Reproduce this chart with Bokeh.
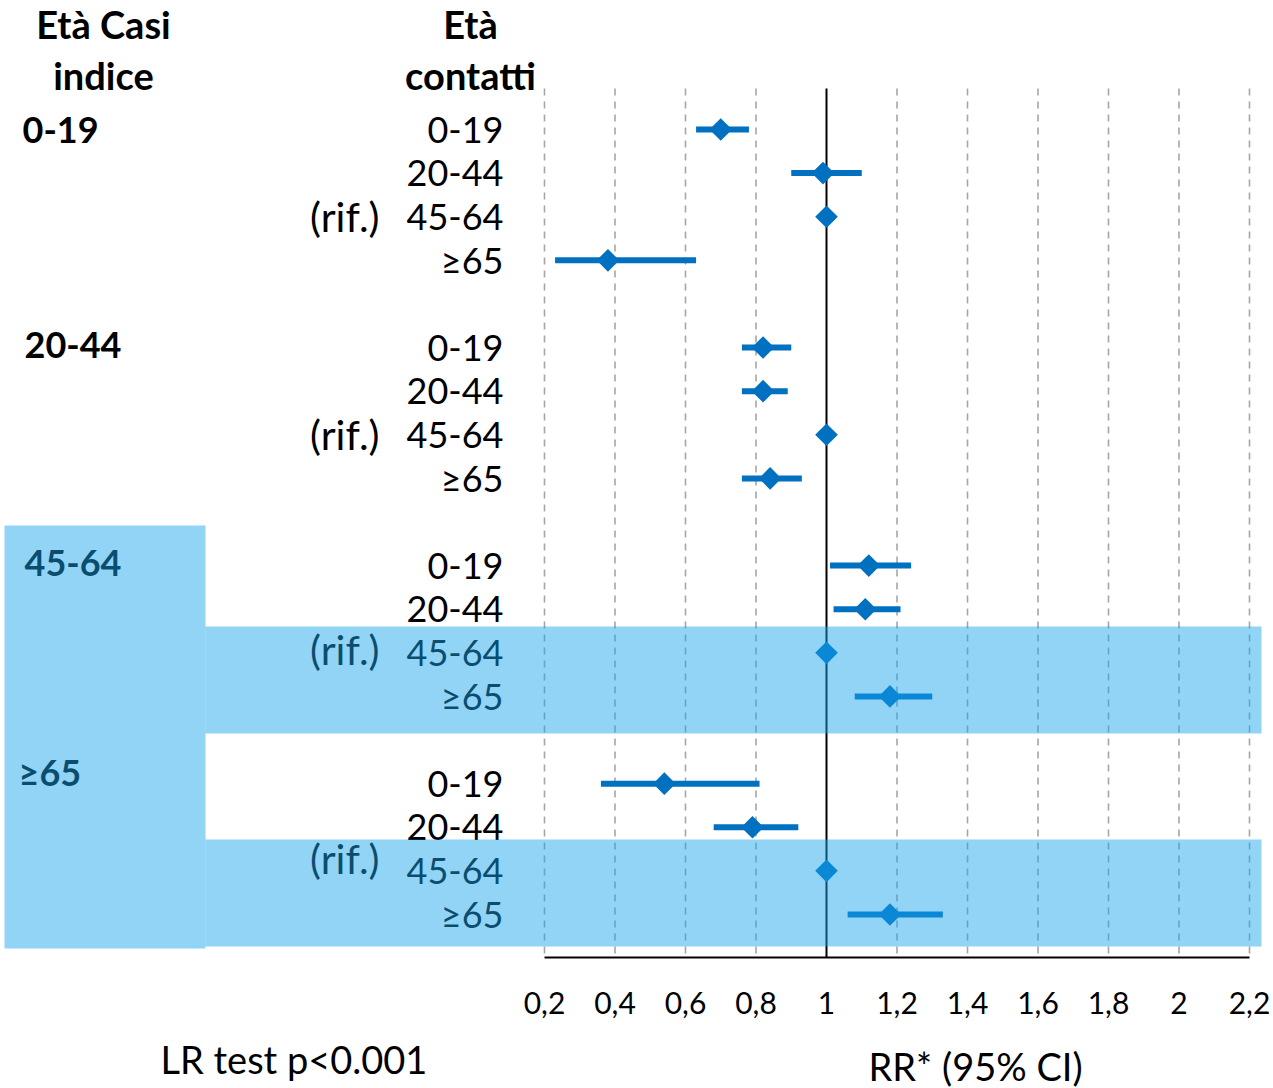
import math
from bokeh.plotting import figure
from bokeh.models import Range1d
from bokeh.core.properties import value
from bokeh.embed import file_html
from bokeh.resources import INLINE

# ---------------- data ----------------
index_groups = ["0-19", "20-44", "45-64", "≥65"]      # Età casi indice
contact_ages = ["0-19", "20-44", "45-64", "≥65"]      # Età contatti
reference_age = "45-64"
reference_label = "(rif.)"

rr_g1 = [0.70, 0.99, 1.00, 0.38]
lo_g1 = [0.63, 0.90, None, 0.23]
hi_g1 = [0.78, 1.10, None, 0.63]

rr_g2 = [0.82, 0.82, 1.00, 0.84]
lo_g2 = [0.76, 0.76, None, 0.76]
hi_g2 = [0.90, 0.89, None, 0.93]

rr_g3 = [1.12, 1.11, 1.00, 1.18]
lo_g3 = [1.01, 1.02, None, 1.08]
hi_g3 = [1.24, 1.21, None, 1.30]

rr_g4 = [0.54, 0.79, 1.00, 1.18]
lo_g4 = [0.36, 0.68, None, 1.06]
hi_g4 = [0.81, 0.92, None, 1.33]

tick_values = [0.2, 0.4, 0.6, 0.8, 1.0, 1.2, 1.4, 1.6, 1.8, 2.0, 2.2]
tick_labels = ["0,2", "0,4", "0,6", "0,8", "1", "1,2", "1,4", "1,6", "1,8", "2", "2,2"]

header_index = ["Età Casi", "indice"]
header_contact = ["Età", "contatti"]
note_text = "LR test p<0.001"
axis_title = "RR* (95% CI)"

# ---------------- layout ----------------
FONT = "Lato"
BLUE = "#0070C0"
PX = 352.5            # pixels per RR unit
W, H = 1273, 1088
def vx(px):           # page x pixel -> RR value (layout helper)
    return 0.2 + (px - 544) / PX
def ry(py):           # page y pixel -> row units (layout helper)
    return (py - 129) / 43.61

rr_all = [rr_g1, rr_g2, rr_g3, rr_g4]
lo_all = [lo_g1, lo_g2, lo_g3, lo_g4]
hi_all = [hi_g1, hi_g2, hi_g3, hi_g4]

rows, rr_x, bar_lo, bar_hi, bar_rows = [], [], [], [], []
lab_rows, lab_text = [], []
for gi, g in enumerate(index_groups):
    for ci, c in enumerate(contact_ages):
        r = gi * 5 + ci
        rows.append(r)
        rr_x.append(rr_all[gi][ci])
        lab_rows.append(r)
        lab_text.append(c)
        if lo_all[gi][ci] is not None:
            bar_lo.append(lo_all[gi][ci])
            bar_hi.append(hi_all[gi][ci])
            bar_rows.append(r)

p = figure(width=W, height=H,
           x_range=Range1d(vx(0), vx(W)),
           y_range=Range1d(ry(H), ry(0)),
           output_backend="svg", toolbar_location=None,
           min_border=0, x_axis_location=None, y_axis_location=None)
p.outline_line_color = None
p.grid.visible = False
p.background_fill_color = "white"

AXIS_Y = ry(957)

# dashed vertical grid lines
grid_x = [t for t in tick_values if t != 1.0]
p.segment(x0=grid_x, y0=[ry(88)] * len(grid_x), x1=grid_x, y1=[ry(954)] * len(grid_x),
          line_color="#A6A6A6", line_width=1.6, line_dash="7 6")
# solid reference line at RR = 1
p.segment(x0=[1.0], y0=[ry(88)], x1=[1.0], y1=[AXIS_Y], line_color="#000000", line_width=2)

# x axis: line and tick labels on the RR scale
p.segment(x0=[tick_values[0]], y0=[AXIS_Y], x1=[tick_values[-1]], y1=[AXIS_Y],
          line_color="#000000", line_width=2)
p.text(x=tick_values, y=[ry(1002)] * len(tick_values), text=tick_labels,
       text_font=value(FONT), text_font_size="30px", text_align="center",
       text_baseline="middle", text_color="#000000")

# confidence intervals and point estimates
p.segment(x0=bar_lo, y0=bar_rows, x1=bar_hi, y1=bar_rows, line_color=BLUE, line_width=6)
p.scatter(x=rr_x, y=rows, marker="square", size=16, angle=math.pi / 4,
          fill_color=BLUE, line_color=None)

# row labels
p.text(x=[vx(503)] * len(lab_rows), y=lab_rows, text=lab_text,
       text_font=value(FONT), text_font_size="36px", text_align="right",
       text_baseline="middle", text_color="#000000")
# reference markers "(rif.)"
rif_rows = [gi * 5 + contact_ages.index(reference_age) for gi in range(len(index_groups))]
rif_y = [rif_rows[0], rif_rows[1], ry(649), ry(858)]
p.text(x=[vx(379)] * len(rif_rows), y=rif_y, text=[reference_label] * len(rif_rows),
       text_font=value(FONT), text_font_size="41px", text_align="right",
       text_baseline="middle", text_color="#000000")
# group labels
grp_x = [vx(22), vx(24), vx(24), vx(18)]
grp_y = [ry(129), ry(344), ry(562), ry(771)]
p.text(x=grp_x, y=grp_y, text=index_groups,
       text_font=value(FONT), text_font_size="36px", text_font_style="bold",
       text_align="left", text_baseline="middle", text_color="#000000")
# headers
p.text(x=[vx(103), vx(103)], y=[ry(23), ry(74)], text=header_index,
       text_font=value(FONT), text_font_size="38px", text_font_style="bold",
       text_align="center", text_baseline="middle", text_color="#000000")
p.text(x=[vx(470), vx(470)], y=[ry(23), ry(74)], text=header_contact,
       text_font=value(FONT), text_font_size="38px", text_font_style="bold",
       text_align="center", text_baseline="middle", text_color="#000000")

# texts under the axis
p.text(x=[vx(160)], y=[ry(1058)], text=[note_text],
       text_font=value(FONT), text_font_size="38px", text_align="left",
       text_baseline="middle", text_color="#000000")
p.text(x=[vx(868)], y=[ry(1065)], text=[axis_title],
       text_font=value(FONT), text_font_size="38px", text_align="left",
       text_baseline="middle", text_color="#000000")

# translucent highlight bands (drawn on top, tinting what lies beneath)
p.quad(left=[vx(4), vx(205), vx(205)],
       right=[vx(205), vx(1261), vx(1261)],
       top=[ry(525), ry(626), ry(839)],
       bottom=[ry(948), ry(733), ry(946)],
       fill_color="#17A4EB", fill_alpha=0.47, line_color=None)

open("out.html", "w").write(file_html(p, INLINE))
